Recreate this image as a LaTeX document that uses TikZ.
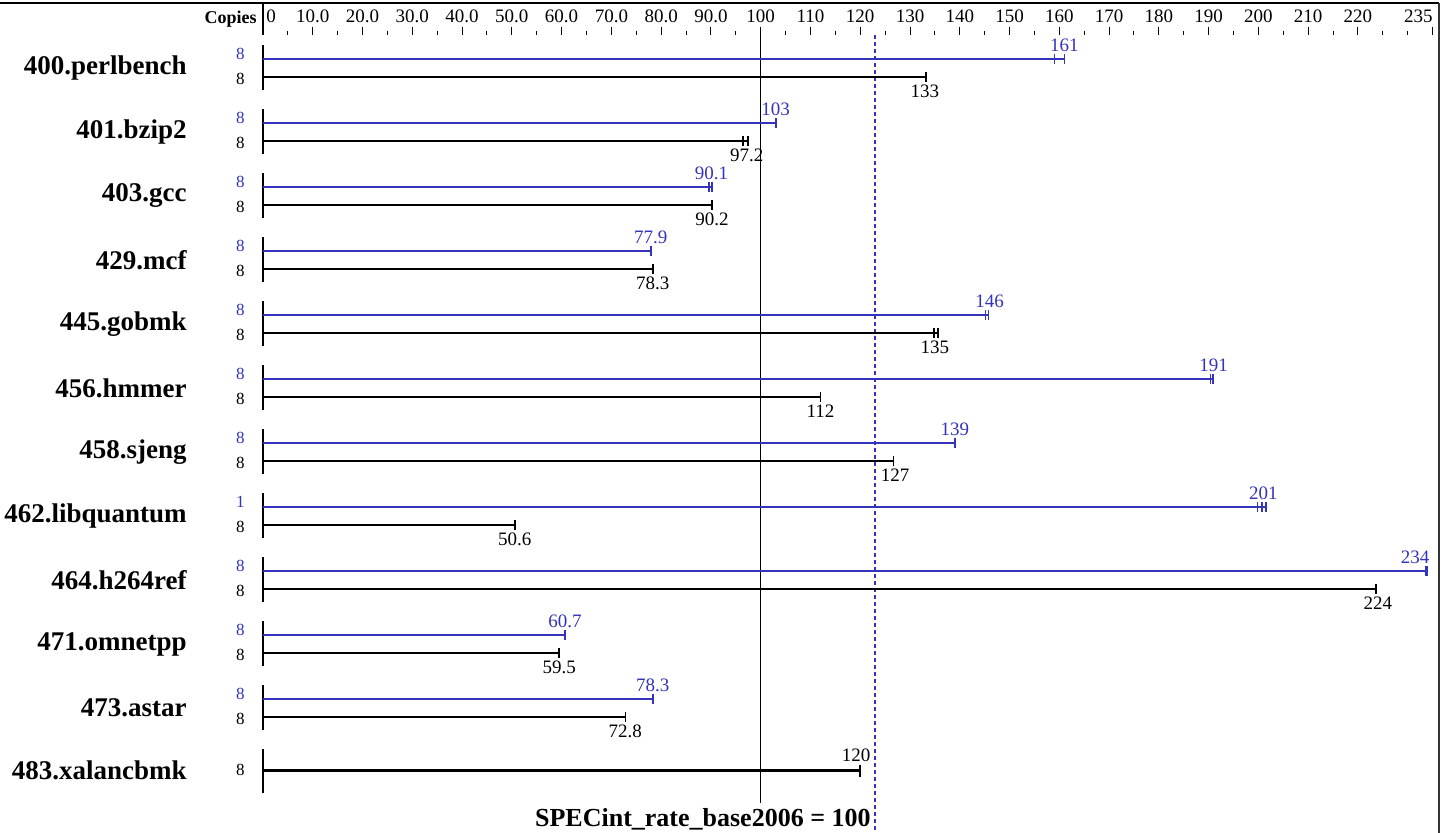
\documentclass[tikz,border=0pt]{standalone}
\usepackage{fontspec}
\setmainfont{Liberation Serif}
\definecolor{peakblue}{RGB}{51,51,187}

\tikzset{
  benchname/.style={anchor=east, inner sep=0pt, font=\fontsize{13.5}{15}\selectfont\bfseries},
  copies/.style={anchor=east, inner sep=0pt, font=\fontsize{8.5}{10}\selectfont},
  value/.style={inner sep=0pt, font=\fontsize{9.5}{11}\selectfont},
  axisnum/.style={anchor=base, inner sep=0pt, font=\fontsize{9.5}{11}\selectfont},
  peakbar/.style={draw=peakblue, line width=1pt},
  basebar/.style={draw=black, line width=1pt},
  endtick/.style={line width=0.8pt},
}

% #1 row, #2 name, #3 peak copies, #4 peak text, #5 peak end, #6 peak ticks,
% #7 base text, #8 base end, #9 base ticks
\newcommand{\benchrow}[9]{%
  \pgfmathsetmacro{\ypeak}{59+64*#1}
  \pgfmathsetmacro{\ybase}{77+64*#1}
  \node[benchname] (r#1name) at (187,{68+64*#1}) {#2};
  \node[copies, text=peakblue] (r#1pc) at (245,{\ypeak-5}) {#3};
  \node[copies] (r#1bc) at (245,{\ybase+2}) {8};
  \coordinate (r#1top) at (263,{\ypeak-14});
  \coordinate (r#1bot) at (263,{\ybase+13});
  \draw[line width=1pt] (r#1top) -- (r#1bot);
  % peak bar
  \coordinate (r#1p0) at (263,\ypeak);
  \coordinate (r#1p1) at ({263+4.977*#5},\ypeak);
  \draw[peakbar] (r#1p0) -- (r#1p1);
  \foreach \t in {#6}
    \draw[endtick, peakblue] ({263+4.977*\t},{\ypeak-5}) -- ({263+4.977*\t},{\ypeak+5});
  \node[value, text=peakblue] (r#1pv) at ({min(263+4.977*#4,1415)},{\ypeak-14}) {#4};
  % base bar
  \coordinate (r#1b0) at (263,\ybase);
  \coordinate (r#1b1) at ({263+4.977*#8},\ybase);
  \draw[basebar] (r#1b0) -- (r#1b1);
  \foreach \t in {#9}
    \draw[endtick] ({263+4.977*\t},{\ybase-5}) -- ({263+4.977*\t},{\ybase+5});
  \node[value] (r#1bv) at ({263+4.977*#7},{\ybase+14}) {#7};
}

\begin{document}
\begin{tikzpicture}[x=0.5pt, y=-0.5pt]
  \useasboundingbox (0,0) rectangle (1448,833);

  % frame
  \coordinate (tl) at (0,3);
  \coordinate (tr) at (1439,3);
  \coordinate (br) at (1439,833);
  \draw[line width=1pt] (tl) -- (tr);
  \draw[line width=1pt, black!80] (tr) -- (br);

  % scale
  \node[anchor=base east, inner sep=0pt, font=\fontsize{9}{11}\selectfont\bfseries] (copieshead) at (257,24) {Copies};
  \coordinate (ax0) at (263,4);
  \coordinate (ax1) at (263,35);
  \draw[line width=0.6pt] (ax0) -- (ax1);
  \foreach \v in {5,15,...,225}
    \draw[line width=0.5pt] ({263+4.977*\v},31) -- ({263+4.977*\v},35);
  \foreach \v in {10,20,...,220,235}
    \draw[line width=0.5pt] ({263+4.977*\v},27) -- ({263+4.977*\v},35);
  \draw[line width=0.5pt] ({263+4.977*230},31) -- ({263+4.977*230},35);
  \node[axisnum, anchor=base west] (n0) at (266,23) {0};
  \foreach \v in {10,20,...,90}
    \node[axisnum] (n\v) at ({263+4.977*\v},23) {\v.0};
  \foreach \v in {100,110,...,220}
    \node[axisnum] (n\v) at ({263+4.977*\v},23) {\v};
  \node[axisnum, anchor=base east] (n235) at (1433,23) {235};

  % reference lines
  \coordinate (ref0) at ({263+4.977*100},35);
  \coordinate (ref1) at ({263+4.977*100},803);
  \draw[line width=0.5pt] (ref0) -- (ref1);
  \coordinate (geo0) at ({263+4.977*123},35);
  \coordinate (geo1) at ({263+4.977*123},833);
  \draw[peakblue, line width=0.9pt, dash pattern=on 2pt off 1.5pt] (geo0) -- (geo1);
  \node[anchor=base east, inner sep=0pt, font=\fontsize{13}{15}\selectfont\bfseries] (baselabel) at (871,827) {SPECint\_rate\_base2006 = 100};

  % benchmarks
  \benchrow{0}{400.perlbench}{8}{161}{161}{159,161}{133}{133.2}{133.2}
  \benchrow{1}{401.bzip2}{8}{103}{103.1}{103.1}{97.2}{97.5}{96.5,97.5}
  \benchrow{2}{403.gcc}{8}{90.1}{90.2}{89.6,90.2}{90.2}{90.2}{90.2}
  \benchrow{3}{429.mcf}{8}{77.9}{77.9}{77.9}{78.3}{78.3}{78.3}
  \benchrow{4}{445.gobmk}{8}{146}{145.8}{145.2,145.8}{135}{135.6}{134.8,135.6}
  \benchrow{5}{456.hmmer}{8}{191}{190.9}{190.4,190.9}{112}{112}{112}
  \benchrow{6}{458.sjeng}{8}{139}{139}{139}{127}{126.7}{126.7}
  \benchrow{7}{462.libquantum}{1}{201}{201.5}{199.8,200.7,201.5}{50.6}{50.6}{50.6}
  \benchrow{8}{464.h264ref}{8}{234}{234}{233.6,233.8,234}{224}{223.6}{223.6}
  \benchrow{9}{471.omnetpp}{8}{60.7}{60.7}{60.7}{59.5}{59.5}{59.5}
  \benchrow{10}{473.astar}{8}{78.3}{78.3}{78.3}{72.8}{72.8}{72.8}

  % 483.xalancbmk, base only
  \node[benchname] (r11name) at (187,770) {483.xalancbmk};
  \node[copies] (r11bc) at (245,770) {8};
  \coordinate (r11top) at (263,749);
  \coordinate (r11bot) at (263,793);
  \draw[line width=1pt] (r11top) -- (r11bot);
  \coordinate (r11b0) at (263,771);
  \coordinate (r11b1) at ({263+4.977*120},771);
  \draw[basebar, line width=1.5pt] (r11b0) -- (r11b1);
  \draw[endtick] (r11b1) ++(0,-6) -- ++(0,12);
  \node[value] (r11bv) at ({263+4.977*120-4},755) {120};
\end{tikzpicture}
\end{document}
